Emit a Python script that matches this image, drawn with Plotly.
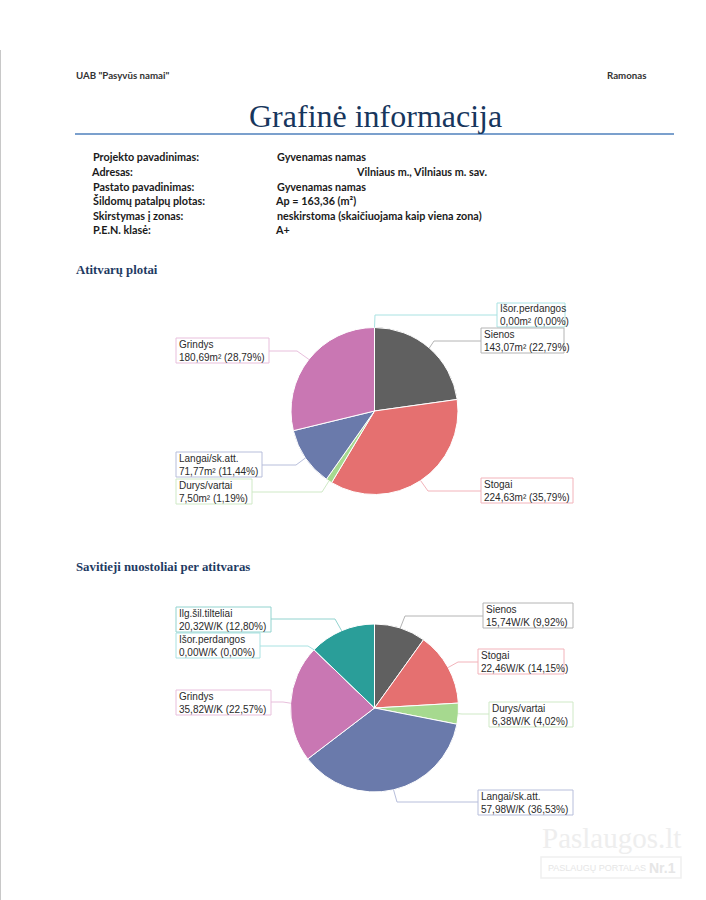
import math
import plotly.graph_objects as go

W, H = 706, 900

# ---------------- data ----------------
header_left = 'UAB "Pasyvūs namai"'
header_right = "Ramonas"
page_title = "Grafinė informacija"

info_labels = ["Projekto pavadinimas:", "Adresas:", "Pastato pavadinimas:",
               "Šildomų patalpų plotas:", "Skirstymas į zonas:", "P.E.N. klasė:"]
info_values = ["Gyvenamas namas", "Vilniaus m., Vilniaus m. sav.", "Gyvenamas namas",
               "Ap = 163,36 (m²)", "neskirstoma (skaičiuojama kaip viena zona)", "A+"]

section1_title = "Atitvarų plotai"
pie1_labels = ["Išor.perdangos", "Sienos", "Stogai", "Durys/vartai", "Langai/sk.att.", "Grindys"]
pie1_values = [0.00, 143.07, 224.63, 7.50, 71.77, 180.69]
pie1_pct = ["0,00", "22,79", "35,79", "1,19", "11,44", "28,79"]
pie1_unit = "m²"

section2_title = "Savitieji nuostoliai per atitvaras"
pie2_labels = ["Sienos", "Stogai", "Durys/vartai", "Langai/sk.att.", "Grindys", "Išor.perdangos", "Ilg.šil.tilteliai"]
pie2_values = [15.74, 22.46, 6.38, 57.98, 35.82, 0.00, 20.32]
pie2_pct = ["9,92", "14,15", "4,02", "36,53", "22,57", "0,00", "12,80"]
pie2_unit = "W/K"

# ---------------- styles ----------------
slice_colors = {
    "Sienos": "#606060", "Stogai": "#e57070", "Durys/vartai": "#a6d98f",
    "Langai/sk.att.": "#6a7aab", "Grindys": "#c977b3", "Išor.perdangos": "#7fd0d0",
    "Ilg.šil.tilteliai": "#2a9e99",
}
box_colors = {
    "Sienos": "#b4b4b4", "Stogai": "#f2b3ba", "Durys/vartai": "#cfe9c6",
    "Langai/sk.att.": "#b7bedb", "Grindys": "#e8bfdc", "Išor.perdangos": "#a9e2e2",
    "Ilg.šil.tilteliai": "#92d3cf",
}

# label box layouts in pixels: (x0, y0, x1, y1, line_y, elbow_x)
pie1_geom = dict(cx=374.5, cy=411, r=83.5)
pie1_boxes = {
    "Išor.perdangos": (497, 303, 565, 327, 315, 375),
    "Sienos": (481, 328, 564, 353, 341, 434),
    "Stogai": (481, 478, 573, 503, 491, 428),
    "Durys/vartai": (176, 479, 252, 504, 492, 322),
    "Langai/sk.att.": (176, 452, 262, 477, 465, 296),
    "Grindys": (176, 338, 269, 363, 351, 297),
}
pie2_geom = dict(cx=374.5, cy=708, r=84)
pie2_boxes = {
    "Sienos": (483, 603, 573, 628, 616, 405),
    "Stogai": (478, 649, 564, 674, 662, 458),
    "Durys/vartai": (489, 702, 573, 727, 714, 462),
    "Langai/sk.att.": (478, 790, 573, 815, 802, 397),
    "Grindys": (176, 690, 271, 715, 702, 283),
    "Išor.perdangos": (176, 633, 260, 658, 646, 308),
    "Ilg.šil.tilteliai": (176, 607, 271, 632, 619, 335),
}


def px(x):
    return x / W


def py(y):
    return 1 - y / H


fig = go.Figure()
shapes = []
annotations = []


def fmt(v):
    return f"{v:.2f}".replace(".", ",")


def add_pie(labels, values, pcts, unit, geom, boxes):
    cx, cy, r = geom["cx"], geom["cy"], geom["r"]
    fig.add_trace(go.Pie(
        labels=labels, values=values, sort=False, direction="clockwise",
        rotation=0, textinfo="none", hoverinfo="skip", showlegend=False,
        marker=dict(colors=[slice_colors[l] for l in labels], line=dict(color="white", width=1)),
        domain=dict(x=[px(cx - r), px(cx + r)], y=[py(cy + r), py(cy - r)]),
    ))
    total = sum(values)
    cum = 0.0
    for lab, val, pct in zip(labels, values, pcts):
        mid = (cum + val / 2) / total * 2 * math.pi
        cum += val
        ax = cx + r * math.sin(mid)
        ay = cy - r * math.cos(mid)
        x0, y0, x1, y1, ly, ex = boxes[lab]
        edge = x0 if x0 > cx else x1
        col = box_colors[lab]
        shapes.append(dict(type="path", xref="paper", yref="paper",
                           path=f"M {px(ax)},{py(ay)} L {px(ex)},{py(ly)} L {px(edge)},{py(ly)}",
                           line=dict(color=col, width=1)))
        shapes.append(dict(type="rect", xref="paper", yref="paper",
                           x0=px(x0), x1=px(x1), y0=py(y1), y1=py(y0),
                           line=dict(color=col, width=1), fillcolor="white"))
        annotations.append(dict(xref="paper", yref="paper", x=px(x0 + 1), y=py((y0 + y1) / 2 + 0.5),
                                xanchor="left", yanchor="middle", align="left", showarrow=False,
                                text=f"{lab}<br>{fmt(val)}{unit} ({pct}%)",
                                font=dict(family="Liberation Sans, Arial", size=10, color="#2a2a2a")))


add_pie(pie1_labels, pie1_values, pie1_pct, pie1_unit, pie1_geom, pie1_boxes)
add_pie(pie2_labels, pie2_values, pie2_pct, pie2_unit, pie2_geom, pie2_boxes)

# ---------------- page texts ----------------
doc_font = "Lato, Noto Sans, sans-serif"


def txt(x, y, text, font, xanchor="left"):
    annotations.append(dict(xref="paper", yref="paper", x=px(x), y=py(y), xanchor=xanchor,
                            yanchor="middle", align="left", showarrow=False, text=text, font=font))


txt(74, 75, f"<b>{header_left}</b>", dict(family=doc_font, size=9.7, color="#333"))
txt(648, 75, f"<b>{header_right}</b>", dict(family=doc_font, size=9.7, color="#333"), xanchor="right")
txt(375, 116, page_title, dict(family="Liberation Serif, serif", size=32, color="#17365d"), xanchor="center")
shapes.append(dict(type="line", xref="paper", yref="paper", x0=px(75), x1=px(674), y0=py(134), y1=py(134),
                   line=dict(color="#4f81bd", width=1.5)))
shapes.append(dict(type="line", xref="paper", yref="paper", x0=px(0.5), x1=px(0.5), y0=py(50), y1=py(900),
                   line=dict(color="#c8c8c8", width=1)))

row_y = [157, 171.5, 186, 200.5, 215, 229.5]
for i, (lab, val) in enumerate(zip(info_labels, info_values)):
    f = dict(family=doc_font, size=10.8, color="#1a1a1a")
    lx = 91 - (2 if lab.startswith("A") else 0)
    vx = (354 if i == 1 else 275) - (2 if val.startswith("A") else 0)
    txt(lx, row_y[i], f"<b>{lab}</b>", f)
    txt(vx, row_y[i], f"<b>{val}</b>", f)

for t, yy in [(section1_title, 270), (section2_title, 567)]:
    txt(74, yy, f"<b>{t}</b>", dict(family="Liberation Serif, serif", size=12.8, color="#1f3b63"))

# watermark
txt(611, 838, "Paslaugos.lt", dict(family="Liberation Serif, serif", size=29, color="#eeeeee"), xanchor="center")
shapes.append(dict(type="rect", xref="paper", yref="paper", x0=px(541), x1=px(681), y0=py(878), y1=py(857),
                   line=dict(color="#f0f0f0", width=1.5), fillcolor="rgba(0,0,0,0)"))
txt(546, 868, "PASLAUGŲ PORTALAS", dict(family="Liberation Sans, sans-serif", size=9, color="#e6e6e6"))
txt(678, 868, "<b>Nr.1</b>", dict(family="Liberation Sans, sans-serif", size=14, color="#e6e6e6"), xanchor="right")

fig.update_layout(width=W, height=H, margin=dict(l=0, r=0, t=0, b=0),
                  paper_bgcolor="white", plot_bgcolor="white",
                  shapes=shapes, annotations=annotations)
fig.write_html("out.html", config={"displayModeBar": False, "staticPlot": True},
               post_script="document.body.style.margin='0';document.body.style.overflow='hidden';")
